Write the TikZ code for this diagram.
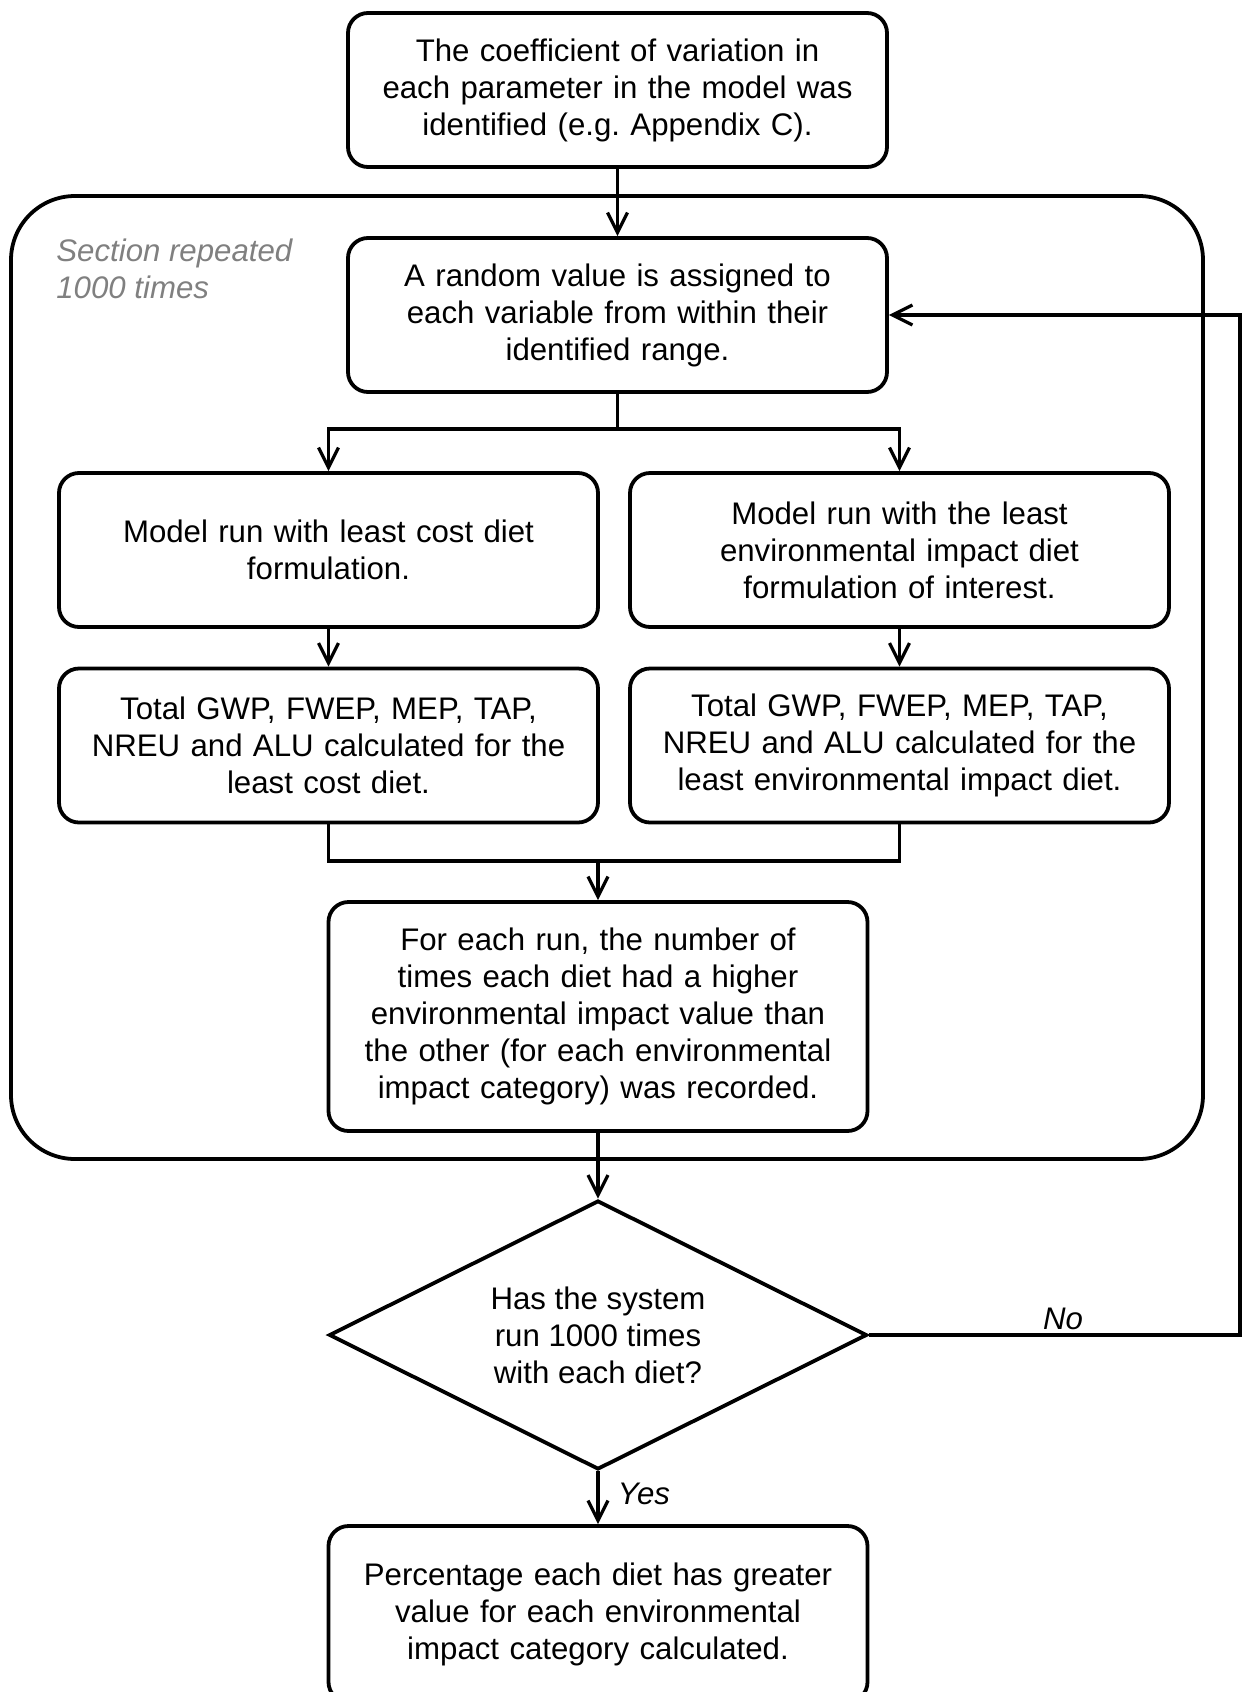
\documentclass[tikz,border=0pt]{standalone}
\usepackage{fontspec}
\setmainfont{Liberation Sans}
\usetikzlibrary{positioning}
\usetikzlibrary{shapes.geometric}
\usetikzlibrary{arrows.meta}

\begin{document}
\begin{tikzpicture}[x=0.5pt, y=-0.5pt,
  stage/.style={rectangle, rounded corners=10pt, draw=black, line width=1.9pt, minimum width=269.5pt, minimum height=77pt, text width=255pt, inner sep=0pt, align=center, font=\fontsize{15.6}{18.5}\selectfont},
  query/.style={diamond, aspect=2, draw=black, line width=1.9pt, minimum width=269pt, minimum height=134.5pt, inner sep=0pt, align=center, font=\fontsize{15.6}{18.5}\selectfont},
  flow/.style={line width=1.6pt, -{Straight Barb[length=10pt, width=10pt]}},
  link/.style={line width=1.6pt},
  tag/.style={inner sep=0pt, font=\fontsize{15.6}{18.5}\selectfont\itshape}
  ]
  \useasboundingbox (0,0) rectangle (1243,1692);
  % repeated section:
  \draw[line width=1.9pt, rounded corners=32pt] (11,196) rectangle (1203,1159);
  \node [tag, text=black!50, anchor=west, align=left] (reps) at (56,268.5) {Section repeated\\1000 times};
  %
  \node [stage] (coeff) at (617.5,90) {The coefficient of variation in\\each parameter in the model was\\identified (e.g.\ Appendix C).};
  \node [stage] (rand) at (617.5,315) {A random value is assigned to\\each variable from within their\\identified range.};
  %
  \node [stage] (lcd) at (328.5,550) {Model run with least cost diet\\formulation.};
  \node [stage] (led) at (899.5,550) {Model run with the least\\environmental impact diet\\formulation of interest.};
  \node [stage] (lct) at (328.5,745.5) {Total GWP, FWEP, MEP, TAP,\\NREU and ALU calculated for the\\least cost diet.};
  \node [stage] (let) at (899.5,745.5) {Total GWP, FWEP, MEP, TAP,\\NREU and ALU calculated for the\\least environmental impact diet.};
  %
  \node [stage, minimum height=114.5pt] (count) at (598,1016.5) {For each run, the number of\\times each diet had a higher\\environmental impact value than\\the other (for each environmental\\impact category) was recorded.};
  \node [query] (check) at (598,1335) {Has the system\\run 1000 times\\with each diet?};
  \node [stage, minimum height=88pt] (pct) at (598,1614) {Percentage each diet has greater\\value for each environmental\\impact category calculated.};
  %
  \coordinate (fork) at (617.5,429);
  \coordinate (join) at (598,861);
  \coordinate (loop) at (1240,1335);
  %
  \draw[flow] (coeff) -- (rand);
  \draw[link] (rand) -- (fork);
  \draw[flow] (fork) -| (lcd);
  \draw[flow] (fork) -| (led);
  \draw[flow] (lcd) -- (lct);
  \draw[flow] (led) -- (let);
  \draw[link] (lct) |- (join);
  \draw[link] (let) |- (join);
  \draw[flow] (join) -- (count);
  \draw[flow] (count) -- (check);
  \draw[flow] (check) -- (pct);
  \draw[flow] (check.east) -- (loop) |- (rand.east);
  %
  \node [tag] (no) at (1063,1319) {No};
  \node [tag] (yes) at (644,1494) {Yes};
\end{tikzpicture}
\end{document}
